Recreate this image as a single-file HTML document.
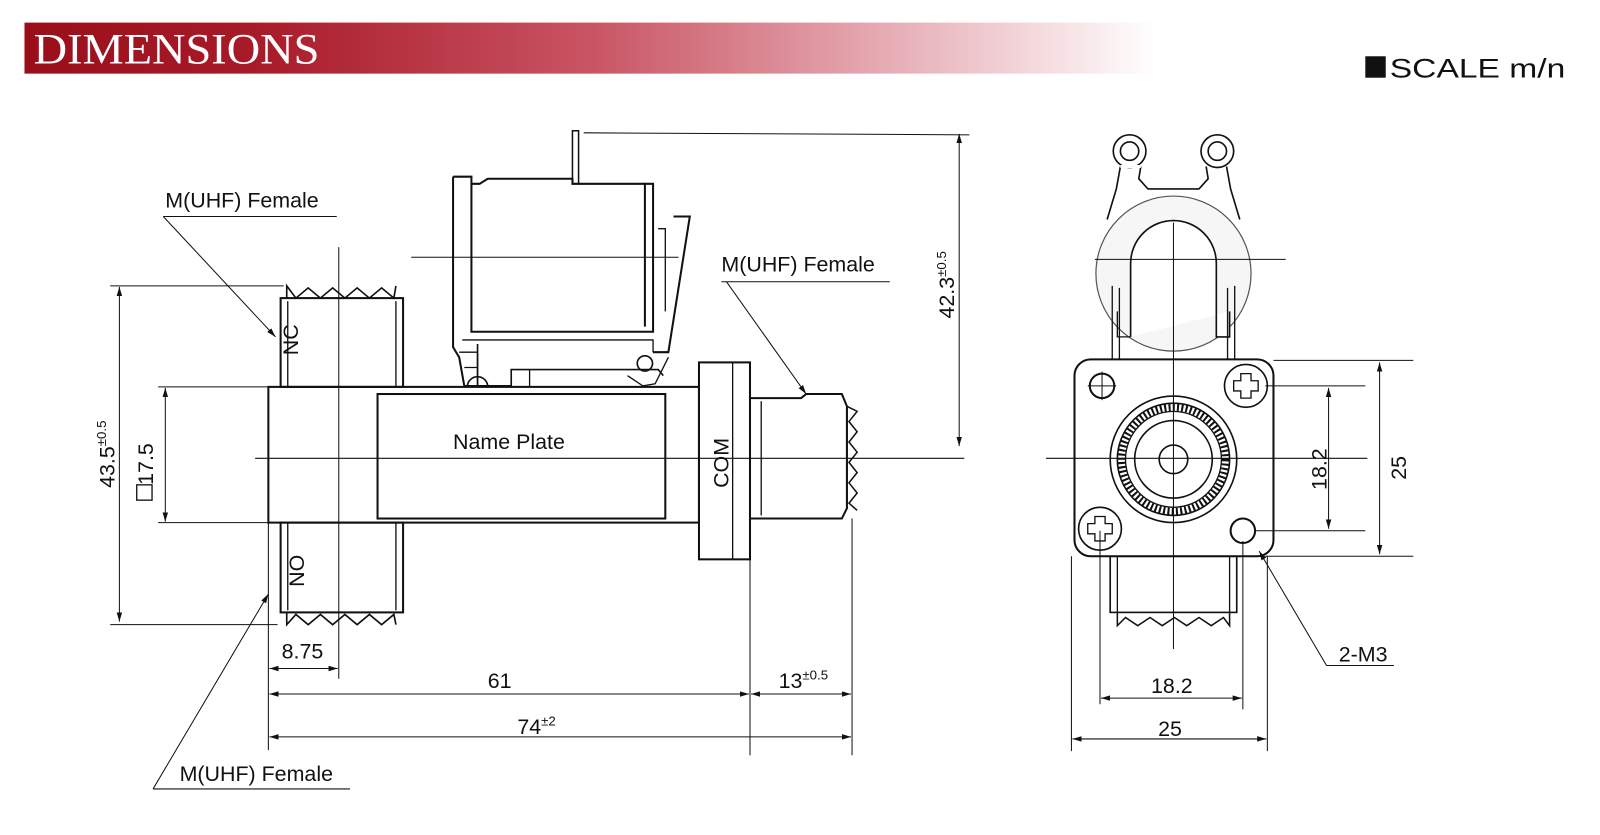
<!DOCTYPE html>
<html><head><meta charset="utf-8"><style>
html,body{margin:0;padding:0;background:#fff;width:1600px;height:835px;overflow:hidden}
svg{display:block}
text{font-family:"Liberation Sans",sans-serif;fill:#111}
</style></head><body>
<svg width="1600" height="835" viewBox="0 0 1568 818" xmlns="http://www.w3.org/2000/svg">
<defs>
<linearGradient id="rg" x1="0" x2="1" y1="0" y2="0">
<stop offset="0" stop-color="#9a0e1a"/><stop offset="0.2" stop-color="#a81a28"/>
<stop offset="0.5" stop-color="#c95463"/><stop offset="0.8" stop-color="#eab9c0"/><stop offset="1" stop-color="#ffffff"/></linearGradient>
<marker id="a" viewBox="0 0 10 10" refX="10" refY="5" markerWidth="9" markerHeight="9" orient="auto-start-reverse"><path d="M0,2 L10,5 L0,8 z" fill="#111"/></marker>
</defs>
<rect x="24" y="22" width="1110" height="50" fill="url(#rg)"/>
<text x="33" y="62" style="font-family:'Liberation Serif',serif;fill:#fff;font-size:42px" textLength="280" lengthAdjust="spacingAndGlyphs">DIMENSIONS</text>
<rect x="1338" y="55" width="20" height="21" fill="#111"/>
<text x="1362" y="76" font-size="26" textLength="172" lengthAdjust="spacingAndGlyphs">SCALE m/n</text>

<g stroke="#111" fill="none" stroke-width="1.3">
<rect x="263" y="379" width="422" height="133" stroke-width="2"/>
<rect x="370" y="386" width="282" height="122" stroke-width="2"/>
<rect x="275" y="292" width="120" height="87" stroke-width="2"/>
<line x1="282" y1="295" x2="282" y2="379"/><line x1="388" y1="295" x2="388" y2="379"/>
<path d="M281,292 L281,280 L290,292 L302,282 L314,292 L326,282 L338,292 L350,282 L362,292 L374,282 L386,292 L388,280" stroke-width="1.6"/>
<rect x="275" y="512" width="120" height="88" stroke-width="2"/>
<line x1="282" y1="512" x2="282" y2="598"/><line x1="388" y1="512" x2="388" y2="598"/>
<path d="M281,600 L281,612 L290,602 L302,612 L314,602 L326,612 L338,602 L350,612 L362,602 L374,612 L386,602 L388,612" stroke-width="1.6"/>
<rect x="685" y="355" width="50" height="193" stroke-width="2"/>
<line x1="718" y1="355" x2="718" y2="548"/>
<path d="M735,390 L785,390 L790,386 L825,386 L830,398 L830,498 L825,508 L735,508" stroke-width="2"/>
<line x1="746" y1="393" x2="746" y2="505"/>
<path d="M830,398 L840,403 L832,413 L840,423 L832,433 L840,443 L832,453 L840,463 L832,473 L840,483 L832,493 L840,500" stroke-width="1.5"/>
<path d="M444,173 L444,340 L450,350 L455,378" stroke-width="2"/>
<path d="M444,173 L462,173 L462,325 L640,325 L640,180 L632,180 L632,320" stroke-width="2"/>
<path d="M462,180 L470,180 L478,175 L561,175 L561,180 L632,180" stroke-width="2"/>
<rect x="561" y="128" width="6" height="52" stroke-width="1.5"/>
<path d="M645,224 L652,224 L652,305" />
<path d="M660,212 L676,212 L655,345 L640,345" stroke-width="2"/>
<path d="M453,333 L640,333 L640,345"/>
<path d="M450,345 L468,345 L468,360 L455,360 M468,345 L468,378"/>
<path d="M468,337 L468,378 M455,378 L501,378 L501,362 L645,362 L650,368" stroke-width="1.6"/>
<path d="M615,368 L630,378 L642,376 L655,350"/>
<circle cx="632" cy="356" r="7.5" stroke-width="1.6"/>
<path d="M458,379 A10,10 0 0 1 478,379" stroke-width="1.6"/>
<line x1="519" y1="362" x2="519" y2="379"/>
<line x1="332" y1="242" x2="332" y2="665" stroke-width="1"/>
<line x1="250" y1="449" x2="945" y2="449" stroke-width="1"/>
<line x1="403" y1="252" x2="665" y2="252" stroke-width="1"/>
<line x1="572" y1="130" x2="950" y2="132" stroke-width="1"/>
<line x1="940" y1="131" x2="940" y2="437" stroke-width="1" marker-start="url(#a)" marker-end="url(#a)"/>
<line x1="108" y1="280" x2="278" y2="280" stroke-width="1"/>
<line x1="108" y1="612" x2="272" y2="612" stroke-width="1"/>
<line x1="117" y1="281" x2="117" y2="609" stroke-width="1" marker-start="url(#a)" marker-end="url(#a)"/>
<line x1="155" y1="379" x2="263" y2="379" stroke-width="1"/>
<line x1="155" y1="512" x2="263" y2="512" stroke-width="1"/>
<line x1="162" y1="380" x2="162" y2="511" stroke-width="1" marker-start="url(#a)" marker-end="url(#a)"/>
<line x1="263" y1="512" x2="263" y2="735" stroke-width="1"/>
<line x1="735" y1="548" x2="735" y2="740" stroke-width="1"/>
<line x1="835" y1="508" x2="835" y2="740" stroke-width="1"/>
<line x1="264" y1="655" x2="331" y2="655" stroke-width="1" marker-start="url(#a)" marker-end="url(#a)"/>
<line x1="264" y1="680" x2="734" y2="680" stroke-width="1" marker-start="url(#a)" marker-end="url(#a)"/>
<line x1="736" y1="680" x2="834" y2="680" stroke-width="1" marker-start="url(#a)" marker-end="url(#a)"/>
<line x1="264" y1="722" x2="834" y2="722" stroke-width="1" marker-start="url(#a)" marker-end="url(#a)"/>
<line x1="160" y1="212" x2="330" y2="212" stroke-width="1"/>
<line x1="160" y1="212" x2="270" y2="330" stroke-width="1" marker-end="url(#a)"/>
<line x1="707" y1="276" x2="872" y2="276" stroke-width="1"/>
<line x1="712" y1="276" x2="790" y2="386" stroke-width="1" marker-end="url(#a)"/>
<line x1="150" y1="773" x2="343" y2="773" stroke-width="1"/>
<line x1="150" y1="773" x2="263" y2="582" stroke-width="1" marker-end="url(#a)"/>

<!-- right view -->
<path d="M1098,163 L1094,185 L1085,215 M1118,163 L1116,175 L1125,185 L1175,185 L1184,175 L1182,163 M1202,163 L1206,185 L1215,215" stroke-width="1.6"/>
<circle cx="1107" cy="148" r="16" stroke-width="1.6" fill="#fff"/>
<circle cx="1107" cy="148" r="9" stroke-width="1.6"/>
<circle cx="1193" cy="148" r="16" stroke-width="1.6" fill="#fff"/>
<circle cx="1193" cy="148" r="9" stroke-width="1.6"/>
<line x1="1098" y1="163" x2="1118" y2="163" stroke="#fff" stroke-width="3"/>
<circle cx="1150" cy="268" r="76" fill="#f6f6f6" stroke-width="1.2" stroke="#555"/>
<path d="M1108,330 L1108,258 A42,42 0 0 1 1192,258 L1192,330 L1205,330 L1205,305" stroke-width="1.6" fill="#fff"/>
<path d="M1108,330 L1095,330 L1095,305"/>
<line x1="1090" y1="280" x2="1090" y2="352"/><line x1="1097" y1="282" x2="1097" y2="352"/>
<line x1="1210" y1="280" x2="1210" y2="352"/><line x1="1203" y1="282" x2="1203" y2="352"/>
<rect x="1053" y="352" width="195" height="193" rx="16" fill="#fff" stroke-width="2"/>
<circle cx="1080" cy="378" r="12" stroke-width="2"/>
<line x1="1066" y1="378" x2="1094" y2="378" stroke-width="1"/><line x1="1080" y1="364" x2="1080" y2="392" stroke-width="1"/>
<circle cx="1221" cy="378" r="21" stroke-width="1.6"/>
<path d="M1216,366 h10 v7 h7 v10 h-7 v7 h-10 v-7 h-7 v-10 h7 z"/>
<circle cx="1078" cy="518" r="21" stroke-width="1.6"/>
<path d="M1073,506 h10 v7 h7 v10 h-7 v7 h-10 v-7 h-7 v-10 h7 z"/>
<circle cx="1218" cy="520" r="12" stroke-width="2"/>
<circle cx="1150" cy="450" r="62" stroke-width="1.6"/>
<circle cx="1150" cy="450" r="55" stroke-width="1.6"/>
<circle cx="1150" cy="450" r="51" stroke-width="7" stroke-dasharray="2 2.2"/>
<circle cx="1150" cy="450" r="47" stroke-width="1.3"/>
<circle cx="1150" cy="450" r="38" stroke-width="1.6"/>
<circle cx="1150" cy="450" r="14" stroke-width="1.6"/>
<rect x="1088" y="545" width="124" height="55" stroke-width="1.6"/>
<line x1="1095" y1="545" x2="1095" y2="600"/><line x1="1205" y1="545" x2="1205" y2="600"/>
<path d="M1095,600 L1095,613 L1103,605 L1115,613 L1127,605 L1139,613 L1151,605 L1163,613 L1175,605 L1187,613 L1199,605 L1205,613 L1205,600" stroke-width="1.5"/>
<line x1="1150" y1="218" x2="1150" y2="636" stroke-width="1"/>
<line x1="1025" y1="449" x2="1340" y2="449" stroke-width="1"/>
<line x1="1073" y1="254" x2="1260" y2="254" stroke-width="1"/>
<line x1="1240" y1="378" x2="1338" y2="378" stroke-width="1"/>
<line x1="1230" y1="520" x2="1338" y2="520" stroke-width="1"/>
<line x1="1302" y1="380" x2="1302" y2="518" stroke-width="1" marker-start="url(#a)" marker-end="url(#a)"/>
<line x1="1248" y1="353" x2="1385" y2="353" stroke-width="1"/>
<line x1="1240" y1="545" x2="1385" y2="545" stroke-width="1"/>
<line x1="1352" y1="355" x2="1352" y2="543" stroke-width="1" marker-start="url(#a)" marker-end="url(#a)"/>
<line x1="1078" y1="520" x2="1078" y2="690" stroke-width="1"/>
<line x1="1218" y1="530" x2="1218" y2="695" stroke-width="1"/>
<line x1="1050" y1="545" x2="1050" y2="736" stroke-width="1"/>
<line x1="1242" y1="545" x2="1242" y2="736" stroke-width="1"/>
<line x1="1079" y1="684" x2="1217" y2="684" stroke-width="1" marker-start="url(#a)" marker-end="url(#a)"/>
<line x1="1051" y1="724" x2="1241" y2="724" stroke-width="1" marker-start="url(#a)" marker-end="url(#a)"/>
<line x1="1300" y1="652" x2="1366" y2="652" stroke-width="1"/>
<line x1="1300" y1="652" x2="1234" y2="540" stroke-width="1" marker-end="url(#a)"/>
</g>

<g font-size="21">
<text x="162" y="203">M(UHF) Female</text>
<text x="707" y="266">M(UHF) Female</text>
<text x="176" y="765">M(UHF) Female</text>
<text x="444" y="440">Name  Plate</text>
<text x="276" y="645">8.75</text>
<text x="478" y="674">61</text>
<text x="763" y="674">13<tspan font-size="13" dy="-8">±0.5</tspan></text>
<text x="507" y="719">74<tspan font-size="13" dy="-8">±2</tspan></text>
<text x="1128" y="679">18.2</text>
<text x="1135" y="721">25</text>
<text x="1312" y="648">2-M3</text>
<text transform="translate(292,348) rotate(-90)">NC</text>
<text transform="translate(298,575) rotate(-90)">NO</text>
<text transform="translate(714,478) rotate(-90)">COM</text>
<text transform="translate(935,312) rotate(-90)">42.3<tspan font-size="13" dy="-8">±0.5</tspan></text>
<text transform="translate(112,478) rotate(-90)">43.5<tspan font-size="13" dy="-8">±0.5</tspan></text>
<text transform="translate(150,475) rotate(-90)">17.5</text>
<text transform="translate(1300,480) rotate(-90)">18.2</text>
<text transform="translate(1378,470) rotate(-90)">25</text>
</g>
<rect x="134" y="475" width="15" height="15" fill="none" stroke="#111" stroke-width="1.3"/>
</svg>
</body></html>
